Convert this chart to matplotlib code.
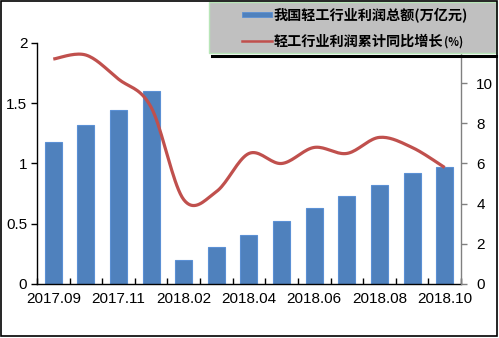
import matplotlib.pyplot as plt
import numpy as np
from matplotlib.patches import Rectangle
from matplotlib.lines import Line2D

plt.rcParams['font.family'] = ['Liberation Sans', 'DejaVu Sans']

# monthly figures
months = ['2017.09', '2017.10', '2017.11', '2017.12', '2018.02', '2018.03', '2018.04',
          '2018.05', '2018.06', '2018.07', '2018.08', '2018.09', '2018.10']
profit = [1.18, 1.32, 1.44, 1.60, 0.20, 0.31, 0.41, 0.52, 0.63, 0.73, 0.82, 0.92, 0.97]
growth = [11.2, 11.4, 10.2, 8.8, 4.2, 4.6, 6.5, 6.0, 6.8, 6.5, 7.3, 6.8, 5.8]

bar_label = '我国轻工行业利润总额(万亿元)'
line_label = '轻工行业利润累计同比增长'
line_unit = '(%)'

bar_color = '#4F81BD'
line_color = '#C0504D'
cjk = ['Noto Sans CJK SC', 'DejaVu Sans']


# smooth line through the points, catmull-rom style
def smooth(x, y, n=20):
    x = np.asarray(x, float)
    y = np.asarray(y, float)
    xs, ys = [], []
    for i in range(len(x) - 1):
        x0, x3 = x[max(i - 1, 0)], x[min(i + 2, len(x) - 1)]
        y0, y3 = y[max(i - 1, 0)], y[min(i + 2, len(y) - 1)]
        x1, x2, y1, y2 = x[i], x[i + 1], y[i], y[i + 1]
        cx1, cy1 = x1 + (x2 - x0) / 6, y1 + (y2 - y0) / 6
        cx2, cy2 = x2 - (x3 - x1) / 6, y2 - (y3 - y1) / 6
        t = np.linspace(0, 1, n)
        b0, b1, b2, b3 = (1 - t) ** 3, 3 * t * (1 - t) ** 2, 3 * t ** 2 * (1 - t), t ** 3
        xs.extend(b0 * x1 + b1 * cx1 + b2 * cx2 + b3 * x2)
        ys.extend(b0 * y1 + b1 * cy1 + b2 * cy2 + b3 * y2)
    return np.array(xs), np.array(ys)


fig = plt.figure(figsize=(4.99, 3.38), dpi=100)
ax = fig.add_axes([0.0741, 0.1598, 0.8497, 0.713])

x = np.arange(len(months))
ax.bar(x, profit, width=0.52, color=bar_color, edgecolor='#5B90D4', linewidth=0.8, zorder=2)
ax.set_xlim(-0.5, len(months) - 0.5)
ax.set_ylim(0, 2)
ax.set_yticks([0, 0.5, 1, 1.5, 2])
ax.set_yticklabels(['0', '0.5', '1', '1.5', '2'])
ax.set_xticks(x[::2])
ax.set_xticklabels(months[::2])
ax.set_xticks(np.arange(-0.5, len(months), 1), minor=True)
ax.tick_params(axis='x', which='major', length=0, labelsize=11, pad=6)
ax.tick_params(axis='x', which='minor', direction='in', length=4, width=1)
ax.tick_params(axis='y', direction='out', length=4, width=1, labelsize=11, pad=3)
for s in ['top', 'right']:
    ax.spines[s].set_visible(False)
ax.spines['left'].set_linewidth(1)
ax.spines['bottom'].set_linewidth(1)

ax2 = ax.twinx()
sx, sy = smooth(x, growth)
ax2.plot(sx, sy, color=line_color, linewidth=2.3, solid_capstyle='butt', zorder=3)
ax2.set_ylim(0, 12)
ax2.set_yticks([0, 2, 4, 6, 8, 10])
ax2.tick_params(axis='y', direction='out', length=4, width=1, color='#808080',
                labelsize=11, pad=7)
for s in ['top', 'left', 'bottom']:
    ax2.spines[s].set_visible(False)
ax2.spines['right'].set_color('#808080')
ax2.spines['right'].set_linewidth(1)
ax.patch.set_visible(False)
ax2.patch.set_visible(False)

W, H = 499, 338


def fx(px):
    return px / W


def fy(py):
    return 1 - py / H


# legend panel
fig.patches.append(Rectangle((fx(209), fy(53)), fx(287), 51 / H, transform=fig.transFigure,
                             facecolor='#C0C0C0', edgecolor='#B8E6B8', linewidth=1, zorder=5))
fig.lines.append(Line2D([fx(212), fx(496)], [fy(56), fy(56)], transform=fig.transFigure,
                        color='black', linewidth=2.2, zorder=5))
fig.patches.append(Rectangle((fx(242), fy(17)), fx(30), 5 / H, transform=fig.transFigure,
                             facecolor=bar_color, edgecolor='#5B90D4', linewidth=0.6, zorder=6))
fig.lines.append(Line2D([fx(242), fx(272)], [fy(41), fy(41)], transform=fig.transFigure,
                        color=line_color, linewidth=1.8, zorder=6))
fig.text(fx(274), fy(15), bar_label, fontsize=10.2, fontweight='bold', va='center',
         family=cjk, zorder=7)
t2 = fig.text(fx(274), fy(42), line_label, fontsize=10.2, fontweight='bold', va='center',
              family=cjk, zorder=7)
fig.canvas.draw()
bb = t2.get_window_extent()
fig.text(bb.x1 / fig.bbox.width + 0.002, fy(42), line_unit, fontsize=8, fontweight='bold',
         va='center', family=cjk, zorder=7)

# outer frame
fig.patches.append(Rectangle((fx(1), fy(336)), fx(496), 335 / H, transform=fig.transFigure,
                             facecolor='none', edgecolor='black', linewidth=1.2, zorder=8))

fig.savefig('out.png', dpi=100)
